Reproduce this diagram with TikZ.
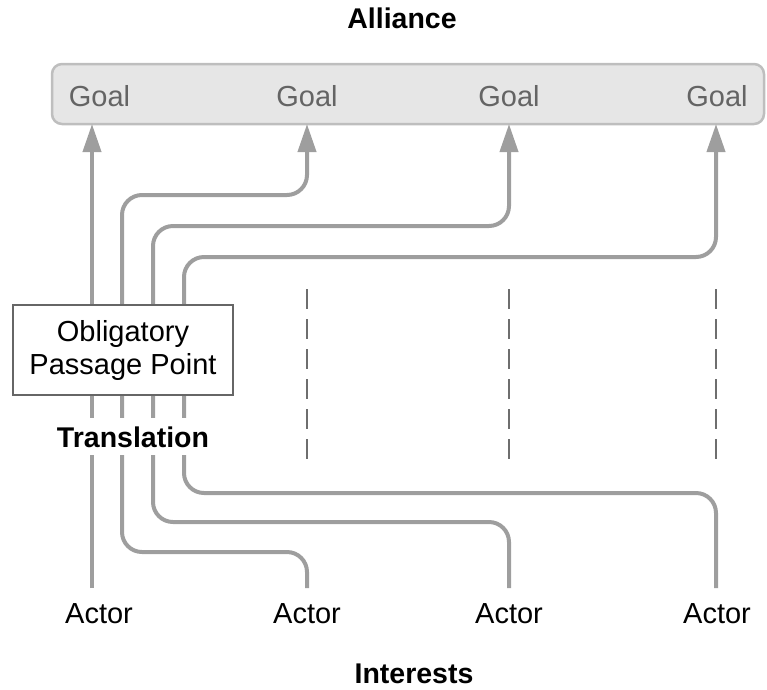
\documentclass[tikz,border=0pt]{standalone}
\usepackage{fontspec}
\setmainfont{Liberation Sans}
\usetikzlibrary{arrows.meta}
\definecolor{flowgray}{RGB}{158,158,158}
\definecolor{goalfill}{RGB}{230,230,230}
\definecolor{goalline}{RGB}{190,190,190}
\definecolor{goaltext}{RGB}{100,100,100}
\definecolor{dashgray}{RGB}{110,110,110}
\begin{document}
\begin{tikzpicture}[x=1pt,y=-1pt,
  every node/.style={font=\fontsize{29}{33}\selectfont},
  flow/.style={draw=flowgray,line width=4pt,rounded corners=20pt},
  flowarrow/.style={flow,-{Triangle[length=28pt,width=18pt]}},
  goallabel/.style={anchor=base,text=goaltext,inner sep=0pt},
  actorlabel/.style={anchor=base,inner sep=0pt},
  heading/.style={anchor=base,inner sep=0pt,font=\fontsize{28.5}{33}\selectfont\bfseries},
  guide/.style={draw=dashgray,line width=2.5pt,dash pattern=on 20pt off 10pt},
  oppbox/.style={draw=black!60,line width=2pt,fill=white,minimum width=220pt,minimum height=90pt,align=center,inner sep=0pt}
]
\useasboundingbox (0,0) rectangle (767,689);

% alliance band of goals
\node[draw=goalline,line width=2.5pt,fill=goalfill,rounded corners=10pt,
      minimum width=712pt,minimum height=60pt,inner sep=0pt] (alliance) at (408,94) {};
\node[heading] (allt) at (402,28) {Alliance};
\node[goallabel] (g1) at (99.5,106.5) {Goal};
\node[goallabel] (g2) at (307,106.5) {Goal};
\node[goallabel] (g3) at (509,106.5) {Goal};
\node[goallabel] (g4) at (717,106.5) {Goal};

% actors and interests
\node[actorlabel] (a1) at (99,623) {Actor};
\node[actorlabel] (a2) at (307,623) {Actor};
\node[actorlabel] (a3) at (509,623) {Actor};
\node[actorlabel] (a4) at (717,623) {Actor};
\node[heading] (intt) at (414,683) {Interests};

% ports where the flows start and end
\coordinate (s1) at (92,588);
\coordinate (s2) at (307,588);
\coordinate (s3) at (509,588);
\coordinate (s4) at (716,588);
\coordinate (e1) at (92,124);
\coordinate (e2) at (307,124);
\coordinate (e3) at (509,124);
\coordinate (e4) at (716,124);

% flows from each actor through the passage point to its goal
\draw[flowarrow] (s1) -- (e1);
\draw[flowarrow] (s2) -- (307,552) -- (122,552) -- (122,195) -- (307,195) -- (e2);
\draw[flowarrow] (s3) -- (509,522) -- (153,522) -- (153,226) -- (509,226) -- (e3);
\draw[flowarrow] (s4) -- (716,493) -- (184,493) -- (184,257) -- (716,257) -- (e4);

% dashed guides
\draw[guide] (307,289) -- (307,460);
\draw[guide] (509,289) -- (509,460);
\draw[guide] (716,289) -- (716,460);

% obligatory passage point and translation label
\node[oppbox] (opp) at (123,350) {Obligatory\\Passage Point};
\node[anchor=base,fill=white,inner sep=0pt,minimum height=37pt,
      font=\fontsize{28.5}{33}\selectfont\bfseries] (trans) at (133,447) {Translation};
\end{tikzpicture}
\end{document}
